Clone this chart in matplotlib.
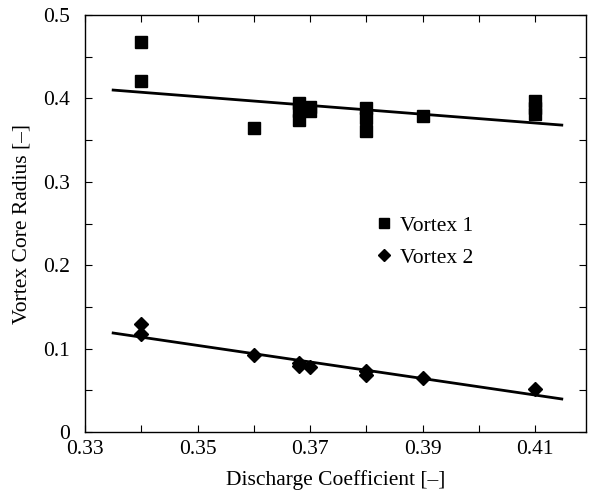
import matplotlib
matplotlib.use("Agg")
import matplotlib.pyplot as plt
import numpy as np

plt.rcParams['font.family'] = ['Liberation Serif', 'DejaVu Serif']
plt.rcParams['mathtext.fontset'] = 'stix'

# Vortex 1 data
v1_x = [0.34, 0.34, 0.36, 0.368, 0.368, 0.368, 0.37, 0.37, 0.38, 0.38, 0.38, 0.39, 0.41, 0.41, 0.41]
v1_y = [0.468, 0.421, 0.364, 0.395, 0.385, 0.374, 0.390, 0.385, 0.388, 0.376, 0.361, 0.379, 0.397, 0.389, 0.381]
# Vortex 2 data
v2_x = [0.34, 0.34, 0.36, 0.368, 0.368, 0.37, 0.38, 0.38, 0.39, 0.41]
v2_y = [0.129, 0.117, 0.092, 0.083, 0.079, 0.078, 0.073, 0.068, 0.065, 0.052]
# fitted lines
fit_x = [0.335, 0.4147]
fit1_y = [0.410, 0.368]
fit2_y = [0.1187, 0.0396]

xticks = [0.33, 0.35, 0.37, 0.39, 0.41]
xtick_labels = ["0.33", "0.35", "0.37", "0.39", "0.41"]
yticks = [0.0, 0.1, 0.2, 0.3, 0.4, 0.5]
ytick_labels = ["0", "0.1", "0.2", "0.3", "0.4", "0.5"]

fig = plt.figure(figsize=(5.9, 4.95), dpi=100)
ax = fig.add_axes([85/590, 63/495, 501/590, 417/495])

ax.plot(fit_x, fit1_y, color='black', lw=2.0)
ax.plot(fit_x, fit2_y, color='black', lw=2.0)
ax.plot(v1_x, v1_y, linestyle='none', marker='s', ms=8, color='black', label='Vortex 1')
ax.plot(v2_x, v2_y, linestyle='none', marker='D', ms=7, color='black', label='Vortex 2')

ax.set_xlim(0.33, 0.419)
ax.set_ylim(0, 0.5)
ax.set_xticks(xticks)
ax.set_xticklabels(xtick_labels)
ax.set_xticks(np.arange(0.34, 0.415, 0.02), minor=True)
ax.set_yticks(yticks)
ax.set_yticklabels(ytick_labels)
ax.set_yticks([0.05, 0.15, 0.25, 0.35, 0.45], minor=True)

ax.tick_params(which='both', direction='in', top=True, right=True, labelsize=15.5, width=0.8)
ax.tick_params(which='major', length=5)
ax.tick_params(which='minor', length=5)
ax.tick_params(axis='y', pad=11)
ax.tick_params(axis='x', pad=6)
for s in ax.spines.values():
    s.set_linewidth(1.0)

ax.set_xlabel("Discharge Coefficient [\u2013]", fontsize=15.5, labelpad=8)
ax.set_ylabel("Vortex Core Radius [\u2013]", fontsize=15.5, labelpad=8)

leg = ax.legend(loc='upper left', bbox_to_anchor=(0.545, 0.565), frameon=False, fontsize=15.5,
                handlelength=0.6, handletextpad=0.45, labelspacing=0.55, markerscale=0.9)

fig.savefig("out.png", dpi=100)
